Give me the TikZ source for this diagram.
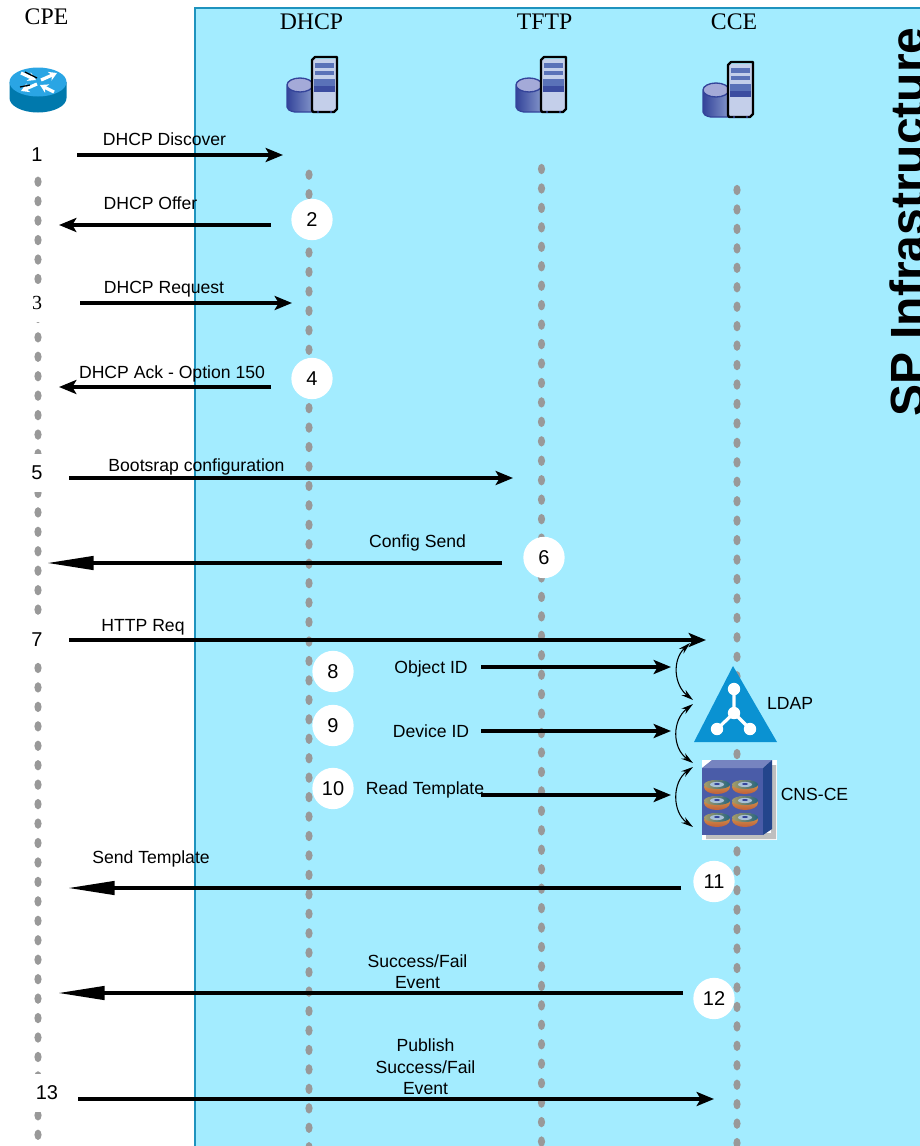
\documentclass[tikz,border=0pt]{standalone}
\usepackage{fontspec}
\setmainfont{Liberation Sans}
\newfontfamily\serfont{Liberation Serif}
\usetikzlibrary{arrows.meta,shapes.geometric}
\definecolor{spbg}{HTML}{A3ECFF}
\definecolor{spedge}{HTML}{1E93BE}
\definecolor{dotgray}{HTML}{999999}
\definecolor{srvdark}{HTML}{34449A}
\definecolor{srvmid}{HTML}{5A72B8}
\definecolor{srvlite}{HTML}{C4CFEA}
\definecolor{cyltop}{HTML}{A4AAD8}
\definecolor{routertop}{HTML}{2AA5E4}
\definecolor{routerside}{HTML}{0079AD}
\definecolor{ldapblue}{HTML}{0A92D2}
\definecolor{cnsface}{HTML}{4A5CA8}
\definecolor{cnstop}{HTML}{7684C0}
\definecolor{cnsside}{HTML}{24458C}
\definecolor{diskteal}{HTML}{2F7F9F}
\definecolor{diskgold}{HTML}{D8A850}
\definecolor{diskred}{HTML}{C0603A}
\definecolor{diskring}{HTML}{A8C0D8}
\tikzset{
  lab/.style={font=\fontsize{13.2}{16}\selectfont,align=center,text=black,inner sep=0pt},
  title/.style={font=\serfont\fontsize{17.8}{20}\selectfont,inner sep=0pt},
  plainnum/.style={font=\fontsize{15}{16}\selectfont,fill=white,inner sep=0pt,minimum width=18pt,minimum height=29pt},
  circnum/.style={circle,fill=white,font=\fontsize{15}{16}\selectfont,inner sep=0pt,minimum size=31pt},
  msg/.style={line width=2.6pt,-{Stealth[length=13pt,width=10.5pt,inset=3pt]}},
  longmsg/.style={line width=2.6pt,-{Triangle[length=35pt,width=10pt]}},
  swing/.style={line width=0.8pt,{Stealth[length=9pt,width=5pt]}-{Stealth[length=9pt,width=5pt]}},
  lifedot/.style={fill=dotgray,draw=none},
  server/.pic={
    % cylinder
    \shade[left color=srvdark,right color=srvmid!75!white,draw=srvdark,line width=1pt,rounded corners=1.5pt] (-25,28) -- (-25,52) -- (-19,55) -- (1,55) -- (1,28) -- cycle;
    \fill[cyltop,draw=srvdark,line width=1pt] (-12,28) ellipse [x radius=13,y radius=7];
    % tower
    \fill[srvlite] (1,2) rectangle (24,54);
    \fill[srvmid] (3,6) rectangle (22,11);
    \fill[srvmid] (3,14) rectangle (22,18);
    \fill[srvmid] (2,22) rectangle (23,33);
    \fill[srvdark!80!srvmid] (2,29) rectangle (23,35);
    \draw[black,line width=1.7pt,line join=round] (3,0) -- (25,0) -- (25,52) -- (22,55) -- (1,55) -- (0,53) -- (0,3) -- cycle;
    \fill[srvdark] (6,55) circle [radius=1.2] (19,55) circle [radius=1.2];
  },
  disk/.pic={
    \shade[top color=diskgold,bottom color=diskred] (0,0) ellipse [x radius=13,y radius=7];
    \shade[left color=diskgold!70!diskteal,right color=diskteal!80!black] (0,-2.5) ellipse [x radius=13,y radius=4.5];
    \fill[diskring] (0,-2.5) ellipse [x radius=7,y radius=2.6];
    \fill[srvdark] (0,-3) ellipse [x radius=3,y radius=1];
  }
}
\begin{document}
\begin{tikzpicture}[x=0.75pt,y=-0.75pt]
\useasboundingbox (0,0) rectangle (920,1146);
\begin{scope}
\clip (0,0) rectangle (920,1146);

% SP region
\node[draw=spedge,fill=spbg,line width=1.2pt,anchor=north west,inner sep=0pt,minimum width=545pt,minimum height=860pt] (region) at (194,7) {};

% lifelines
\foreach \yy in {0,...,49} \fill[lifedot] (38,181.7+19.45*\yy) ellipse [x radius=3.6,y radius=5.2];
\foreach \yy in {0,...,50} \fill[lifedot] (309,174.7+19.45*\yy) ellipse [x radius=3.6,y radius=5.2];
\foreach \yy in {0,...,50} \fill[lifedot] (541.5,169+19.45*\yy) ellipse [x radius=3.6,y radius=5.2];
\foreach \yy in {0,...,49} \fill[lifedot] (737,190+19.45*\yy) ellipse [x radius=3.6,y radius=5.2];

% titles
\node[title] (tcpe) at (46.5,17) {CPE};
\node[title] (tdhcp) at (311.5,22) {DHCP};
\node[title] (ttftp) at (544.5,22) {TFTP};
\node[title] (tcce) at (734,22) {CCE};
\node[font=\bfseries\fontsize{36}{40}\selectfont,rotate=90,anchor=base,inner sep=0pt] (sp) at (924,222) {SP Infrastructure};

% router
\fill[routerside] (9.5,82) -- (9.5,98) arc[start angle=180,end angle=0,x radius=28.5,y radius=14.5] -- (66.5,82) -- cycle;
\fill[routertop] (38,82) ellipse [x radius=28.5,y radius=14.5];
\draw[white,line width=2.4pt,-{Stealth[length=6pt,width=7pt]}] (41,80) -- (57,73);
\draw[white,line width=2.4pt,-{Stealth[length=6pt,width=7pt]}] (37,84) -- (21,91);
\draw[white,line width=2.4pt,-{Stealth[length=6pt,width=7pt]}] (21,73) -- (36,80);
\draw[white,line width=2.4pt,-{Stealth[length=6pt,width=7pt]}] (54,92) -- (40,85);
\draw[black,line width=0.9pt] (20,87) -- (30,85) (25,72) -- (37,78);

% servers
\pic at (312,57) {server};
\pic at (541,57) {server};
\pic at (728,62) {server};

% LDAP
\node[inner sep=0pt] (ldap) at (735,710) {};
\fill[ldapblue] (733,666) -- (777,742) -- (694,742) -- cycle;
\draw[white,line width=2.4pt] (734,689) -- (734,713) (717,729) -- (734,713) -- (750,729);
\foreach \cx/\cy in {734/689,734/713,717/729,750/729} \fill[white] (\cx,\cy) circle [radius=6.2];

% CNS-CE
\fill[white] (702,760) rectangle (777,840);
\fill[black!25!white] (706,833) rectangle (776,839) (771,765) rectangle (776,839);
\fill[cnsface] (702,768) rectangle (763,835);
\fill[cnstop] (702,768) -- (712,760) -- (772,760) -- (763,768) -- cycle;
\fill[cnsside] (763,768) -- (772,760) -- (772,829) -- (763,835) -- cycle;
\foreach \dx in {717,745} \foreach \dy in {787,803,820} \pic at (\dx,\dy) {disk};

% endpoints
\coordinate (s1) at (77,155);    \coordinate (e1) at (283,155);
\coordinate (s2) at (271,225);   \coordinate (e2) at (59,225);
\coordinate (s3) at (80,303);    \coordinate (e3) at (292,303);
\coordinate (s4) at (271,387);   \coordinate (e4) at (59,387);
\coordinate (s5) at (69,478);    \coordinate (e5) at (513,478);
\coordinate (s6) at (502,563);   \coordinate (e6) at (47,563);
\coordinate (s7) at (69,640);    \coordinate (e7) at (706,640);
\coordinate (s8) at (481,667);   \coordinate (e8) at (671,667);
\coordinate (s9) at (481,731);   \coordinate (e9) at (671,731);
\coordinate (s10) at (481,795);  \coordinate (e10) at (671,795);
\coordinate (s11) at (681,888);  \coordinate (e11) at (68,888);
\coordinate (s12) at (683,993);  \coordinate (e12) at (58,993);
\coordinate (s13) at (78,1099);  \coordinate (e13) at (714,1099);
\coordinate (c1a) at (690,643);  \coordinate (c1b) at (693,700);
\coordinate (c2a) at (693,704);  \coordinate (c2b) at (693,763);
\coordinate (c3a) at (693,767);  \coordinate (c3b) at (693,827);

% numbers
\node[plainnum] (n1) at (37,155) {1};
\node[plainnum,font=\serfont\fontsize{15}{16}\selectfont] (n3) at (37,303) {3};
\node[plainnum] (n5) at (37,473) {5};
\node[plainnum] (n7) at (37,640) {7};
\node[plainnum,minimum width=22pt] (n13) at (47,1093) {13};
\node[circnum] (n2) at (312,219.5) {2};
\node[circnum] (n4) at (312,378.5) {4};
\node[circnum] (n6) at (544,557.5) {6};
\node[circnum] (n8) at (333,671.5) {8};
\node[circnum] (n9) at (333,725.5) {9};
\node[circnum] (n10) at (333,788.5) {10};
\node[circnum] (n11) at (714,881.5) {11};
\node[circnum] (n12) at (714,998.5) {12};

% messages
\draw[msg] (s1) -- (e1);
\draw[msg] (s2) -- (e2);
\draw[msg] (s3) -- (e3);
\draw[msg] (s4) -- (e4);
\draw[msg] (s5) -- (e5);
\draw[longmsg] (s6) -- (e6);
\draw[msg] (s7) -- (e7);
\draw[msg] (s8) -- (e8);
\draw[msg] (s9) -- (e9);
\draw[msg] (s10) -- (e10);
\draw[longmsg] (s11) -- (e11);
\draw[longmsg] (s12) -- (e12);
\draw[msg] (s13) -- (e13);

% swing arrows
\draw[swing] (c1a) .. controls (672,660) and (674,685) .. (c1b);
\draw[swing] (c2a) .. controls (672,720) and (672,748) .. (c2b);
\draw[swing] (c3a) .. controls (672,782) and (672,812) .. (c3b);

% labels
\node[lab] (l1) at (164.5,139) {DHCP Discover};
\node[lab] (l2) at (150.5,203) {DHCP Offer};
\node[lab] (l3) at (164,289) {DHCP Request};
\node[lab] (l4) at (172,374) {DHCP Ack - Option 150};
\node[lab] (l5) at (196.5,467) {Bootsrap configuration};
\node[lab] (l6) at (417.5,543) {Config Send};
\node[lab] (l7) at (143,627) {HTTP Req};
\node[lab] (l8) at (431,669) {Object ID};
\node[lab] (l9) at (431,731) {Device ID};
\node[lab] (l10) at (425,790) {Read Template};
\node[lab] (lldap) at (790,703) {LDAP};
\node[lab] (lcns) at (814.5,794) {CNS-CE};
\node[lab] (l11) at (151,859) {Send Template};
\node[lab] (l12) at (417.5,972) {Success/Fail\\Event};
\node[lab] (l13) at (425.5,1067) {Publish\\Success/Fail\\Event};
\end{scope}
\end{tikzpicture}
\end{document}
